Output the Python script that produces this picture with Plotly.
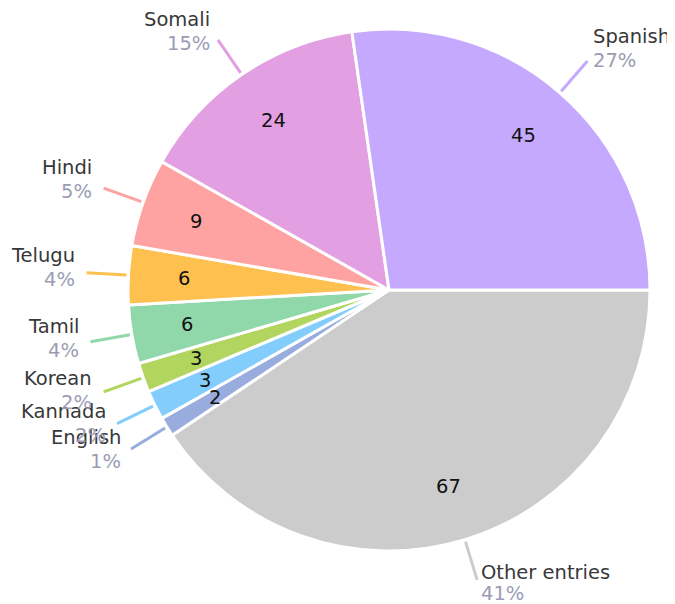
import math
import plotly.graph_objects as go

# ---- data ----
labels = ["Other entries", "English", "Kannada", "Korean", "Tamil", "Telugu", "Hindi", "Somali", "Spanish"]
values = [67, 2, 3, 3, 6, 6, 9, 24, 45]
colors = ["#cccccc", "#98acdd", "#82cdfb", "#b1d55e", "#90d8aa", "#fec04f", "#fea3a2", "#e29fe2", "#c5a9fe"]

OFF = 8                      # page body margin
W, H = 675 - OFF, 604 - OFF  # figure size
CX, CY, R = 389, 290, 261    # pie centre / radius in window pixels
ROT = 90                     # first slice starts at 3 o'clock, clockwise

NAME_COLOR = "#383838"
PCT_COLOR = "#9b9cb4"
FONT = "DejaVu Sans, sans-serif"
FS = 19.5


def px(x):
    return (x - OFF) / W


def py(y):
    return 1 - (y - OFF) / H


fig = go.Figure(go.Pie(
    labels=labels, values=values, sort=False, direction="clockwise", rotation=ROT,
    marker=dict(colors=colors, line=dict(color="white", width=3)),
    textinfo="none", hoverinfo="label+value+percent", showlegend=False,
    domain=dict(x=[px(CX - R), px(CX + R)], y=[py(CY + R), py(CY - R)]),
))

total = sum(values)
shapes, annotations = [], []
cum = 0.0
for lab, v, c in zip(labels, values, colors):
    a0 = ROT + cum / total * 360
    cum += v
    a1 = ROT + cum / total * 360
    mid = math.radians((a0 + a1) / 2)
    s, co = math.sin(mid), math.cos(mid)

    # value inside slice
    annotations.append(dict(
        x=px(CX + 0.785 * R * s), y=py(CY - 0.785 * R * co), xref="paper", yref="paper",
        text=str(v), showarrow=False, font=dict(family=FONT, size=FS, color="#111111"),
        xanchor="center", yanchor="middle"))

    # leader line
    r0, r1 = R + 2, R + 42
    shapes.append(dict(type="line", xref="paper", yref="paper",
                       x0=px(CX + r0 * s), y0=py(CY - r0 * co),
                       x1=px(CX + r1 * s), y1=py(CY - r1 * co),
                       line=dict(color=c, width=3)))

    # outside label: name above, percent below (kept inside the figure)
    pct = round(v / total * 100)
    cy_block = CY - r1 * co - 5 - 10 * co
    name_y = max(cy_block - 12, OFF + 11)
    pct_y = min(name_y + 24, 604 - 11)
    tx = CX + (R + (48 if s > 0 else 52)) * s
    side = "left" if s > 0 else "right"
    annotations.append(dict(
        x=px(tx), y=py(name_y), xref="paper", yref="paper", showarrow=False,
        text=lab, xanchor=side, yanchor="middle",
        font=dict(family=FONT, size=FS, color=NAME_COLOR)))
    annotations.append(dict(
        x=px(tx), y=py(pct_y), xref="paper", yref="paper", showarrow=False,
        text=f"{pct}%", xanchor=side, yanchor="middle",
        font=dict(family=FONT, size=FS, color=PCT_COLOR)))

fig.update_layout(
    width=W, height=H, margin=dict(l=0, r=0, t=0, b=0),
    paper_bgcolor="white", plot_bgcolor="white",
    shapes=shapes, annotations=annotations,
)

fig.write_html("out.html")
